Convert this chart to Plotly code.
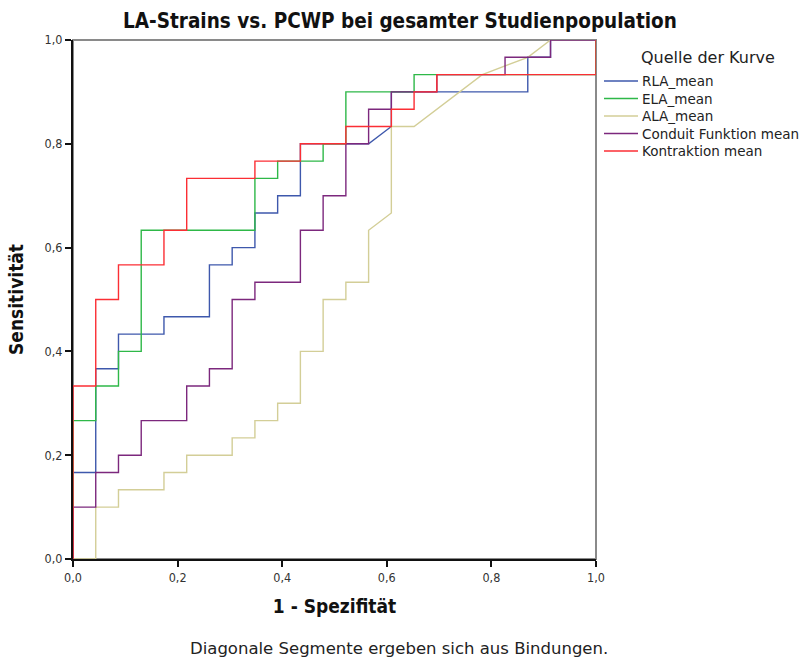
import plotly.graph_objects as go

# ROC vertices as counts: false positives out of N_NEG, true positives out of N_POS
N_NEG = 23
N_POS = 30

rla_fp = [0, 0, 1, 1, 2, 2, 4, 4, 6, 6, 7, 7, 8, 8, 9, 9, 10, 10, 13, 14, 14, 20, 20, 21, 21, 23]
rla_tp = [0, 5, 5, 11, 11, 13, 13, 14, 14, 17, 17, 18, 18, 20, 20, 21, 21, 24, 24, 25, 27, 27, 29, 29, 30, 30]

ela_fp = [0, 0, 1, 1, 2, 2, 3, 3, 8, 8, 9, 9, 11, 11, 12, 12, 15, 15, 23, 23]
ela_tp = [0, 8, 8, 10, 10, 12, 12, 19, 19, 22, 22, 23, 23, 24, 24, 27, 27, 28, 28, 30]

ala_fp = [0, 1, 1, 2, 2, 4, 4, 5, 5, 7, 7, 8, 8, 9, 9, 10, 10, 11, 11, 12, 12, 13, 13, 14, 14, 15, 18, 20, 21, 23]
ala_tp = [0, 0, 3, 3, 4, 4, 5, 5, 6, 6, 7, 7, 8, 8, 9, 9, 12, 12, 15, 15, 16, 16, 19, 20, 25, 25, 28, 29, 30, 30]

cond_fp = [0, 0, 1, 1, 2, 2, 3, 3, 5, 5, 6, 6, 7, 7, 8, 8, 10, 10, 11, 11, 12, 12, 13, 13, 14, 14, 16, 16, 19, 19, 21, 21, 23]
cond_tp = [0, 3, 3, 5, 5, 6, 6, 8, 8, 10, 10, 11, 11, 15, 15, 16, 16, 19, 19, 21, 21, 24, 24, 26, 26, 27, 27, 28, 28, 29, 29, 30, 30]

kontr_fp = [0, 0, 1, 1, 2, 2, 4, 4, 5, 5, 8, 8, 10, 10, 12, 12, 14, 14, 15, 15, 16, 16, 23, 23]
kontr_tp = [0, 10, 10, 15, 15, 17, 17, 19, 19, 22, 22, 23, 23, 24, 24, 25, 25, 26, 26, 27, 27, 28, 28, 30]

curves = [
    ("RLA_mean", rla_fp, rla_tp, "#3e58ac"),
    ("ELA_mean", ela_fp, ela_tp, "#2eb848"),
    ("ALA_mean", ala_fp, ala_tp, "#d3ce97"),
    ("Conduit Funktion mean", cond_fp, cond_tp, "#7c287d"),
    ("Kontraktion mean", kontr_fp, kontr_tp, "#fb2e34"),
]

tick_vals = [0, 0.2, 0.4, 0.6, 0.8, 1.0]
tick_text = ["0,0", "0,2", "0,4", "0,6", "0,8", "1,0"]

# page geometry of the plotting area (pixels)
W, H = 807, 659
L, R, T, B = 73, 211, 40, 100
PW, PH = W - L - R, H - T - B


def px_x(px):
    return (px - L) / PW


def px_y(py):
    return 1 - (py - T) / PH


fig = go.Figure()
for name, fp, tp, color in curves:
    fig.add_trace(go.Scatter(
        x=[v / N_NEG for v in fp],
        y=[v / N_POS for v in tp],
        mode="lines",
        name=name,
        line=dict(color=color, width=1.4),
        hoverinfo="skip",
        showlegend=False,
    ))

label_font = dict(family="DejaVu Sans Condensed", size=12.5, color="#333333")
bold_font = dict(family="DejaVu Sans Condensed", size=19, color="#111111", weight="bold")
legend_font = dict(family="DejaVu Sans", size=13.5, color="#222222")

axis_common = dict(
    range=[0, 1],
    tickvals=tick_vals,
    ticktext=tick_text,
    ticks="outside",
    ticklen=6,
    tickwidth=1.5,
    tickcolor="#111111",
    showline=True,
    linecolor="#111111",
    linewidth=2,
    showgrid=False,
    zeroline=False,
    tickfont=label_font,
    fixedrange=True,
)

# legend drawn as line samples + labels, rows 17.5 px apart
shapes = [
    dict(type="rect", xref="paper", yref="paper", x0=0, y0=0, x1=1, y1=1,
         line=dict(color="#8a8a8a", width=2), layer="below"),
]
annotations = [
    dict(text="Quelle der Kurve", xref="paper", yref="paper",
         x=px_x(639), y=px_y(58), xanchor="left", yanchor="middle",
         showarrow=False, font=dict(family="DejaVu Sans", size=16, color="#222222")),
    dict(text="Diagonale Segmente ergeben sich aus Bindungen.", xref="paper", yref="paper",
         x=px_x(399), y=px_y(648), xanchor="center", yanchor="middle",
         showarrow=False, font=dict(family="DejaVu Sans", size=16.5, color="#222222")),
]
for i, (name, _, _, color) in enumerate(curves):
    row_y = px_y(81 + 17.5 * i)
    shapes.append(dict(type="line", xref="paper", yref="paper",
                       x0=px_x(604), x1=px_x(638), y0=row_y, y1=row_y,
                       line=dict(color=color, width=1.4)))
    annotations.append(dict(text=name, xref="paper", yref="paper",
                            x=px_x(640), y=row_y, xanchor="left", yanchor="middle",
                            showarrow=False, font=legend_font))

fig.update_layout(
    width=W,
    height=H,
    margin=dict(l=L, r=R, t=T, b=B),
    paper_bgcolor="white",
    plot_bgcolor="white",
    title=dict(
        text="LA-Strains vs. PCWP bei gesamter Studienpopulation",
        x=400 / W, xanchor="center",
        y=1 - 21 / H, yanchor="middle",
        font=dict(family="DejaVu Sans Condensed", size=20.5, color="#111111", weight="bold"),
    ),
    xaxis=dict(axis_common, title=dict(text="1 - Spezifität", font=bold_font, standoff=16)),
    yaxis=dict(axis_common, title=dict(text="Sensitivität", font=bold_font, standoff=16)),
    showlegend=False,
    shapes=shapes,
    annotations=annotations,
)

fig.write_html("out.html")
